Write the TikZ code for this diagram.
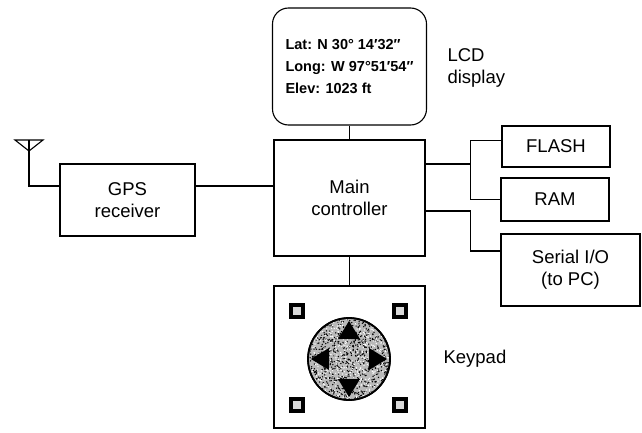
\documentclass[tikz,border=0pt]{standalone}
\usepackage{fontspec}
\setmainfont{Liberation Sans}
\usetikzlibrary{positioning, calc}

\begin{document}
\begin{tikzpicture}[
  x=1pt, y=1pt,
  font=\fontsize{18.5}{22}\selectfont,
  line width=1.1pt,
  block/.style={rectangle, draw=black, fill=white, align=center, inner sep=0pt},
  screen/.style={rectangle, rounded corners=16pt, draw=black, fill=white,
                 align=left, inner sep=0pt, font=\bfseries\fontsize{14.5}{22}\selectfont},
  lbl/.style={anchor=west, align=left, inner sep=0pt},
  key/.style={rectangle, draw=black, line width=4pt, fill=gray!30,
              minimum size=12pt, inner sep=0pt},
]
\useasboundingbox (0,0) rectangle (642,432);

% blocks
\node (lcd)    [screen, minimum width=154pt, minimum height=117pt] at (349.5,365.5)
  {Lat: N 30° 14′32″\\Long: W 97°51′54″\\Elev: 1023 ft};
\node (main)   [block, minimum width=151pt, minimum height=116pt] at (349.5,234)
  {Main\\controller};
\node (gps)    [block, minimum width=135pt, minimum height=72pt] at (127.5,232)
  {GPS\\receiver};
\node (flash)  [block, minimum width=108pt, minimum height=41pt] at (556,285.5) {FLASH};
\node (ram)    [block, minimum width=108pt, minimum height=43pt] at (555,232.5) {RAM};
\node (serial) [block, minimum width=139pt, minimum height=72pt] at (570.5,162)
  {Serial I/O\\(to PC)};
\node (keypad) [block, minimum width=151pt, minimum height=142pt] at (349.5,75) {};

% labels beside the blocks
\node (lcdlbl) [lbl] at (447,364) {LCD\\display};
\node (keylbl) [lbl] at (443,73) {Keypad};

% keypad: four corner keys and the direction disc
\node (k1) [key] at (297,121) {};
\node (k2) [key] at (400,121) {};
\node (k3) [key] at (297,27) {};
\node (k4) [key] at (400,27) {};
\node (dial) [circle, draw=black, line width=1.6pt, fill=gray!55,
              minimum size=82pt, inner sep=0pt] at (349,73) {};
\begin{scope}
  \clip (dial.center) circle (40pt);
  \pgfmathsetseed{7}
  \foreach \i in {1,...,900}
    \fill ({349+41*rand},{73+41*rand}) circle (0.75pt);
  \foreach \i in {1,...,600}
    \fill[white] ({349+41*rand},{73+41*rand}) circle (0.7pt);
\end{scope}
\draw[line width=1.8pt] (dial.center) circle (41pt);
\begin{scope}[shift={(dial.center)}]
  \foreach \a in {0,90,180,270}
    \fill[rotate=\a] (38,0) -- (20,11) -- (20,-11) -- cycle;
\end{scope}

% antenna
\coordinate (ant) at (29,292);
\draw ($(ant)+(-14,0)$) -- ($(ant)+(14,0)$) -- ($(ant)+(0,-11)$) -- cycle;
\draw (ant) |- ([yshift=14pt]gps.west);

% connections
\draw (lcd.south) -- (main.north);
\draw (main.south) -- (keypad.north);
\draw ([yshift=14pt]gps.east) -- ([yshift=14pt]gps.east -| main.west);
\coordinate (memtap) at ($(main.east)+(0,34)$);
\coordinate (iotap)  at ($(main.east)+(0,-13)$);
\draw (memtap) -- (memtap -| {$(ram.west)+(-30,0)$});
\draw ([yshift=6pt]flash.west) -| ($(ram.west)+(-30,0)$) -- (ram.west);
\draw (iotap) -| ($([yshift=19pt]serial.west)+(-30,0)$) -- ([yshift=19pt]serial.west);
\end{tikzpicture}
\end{document}
